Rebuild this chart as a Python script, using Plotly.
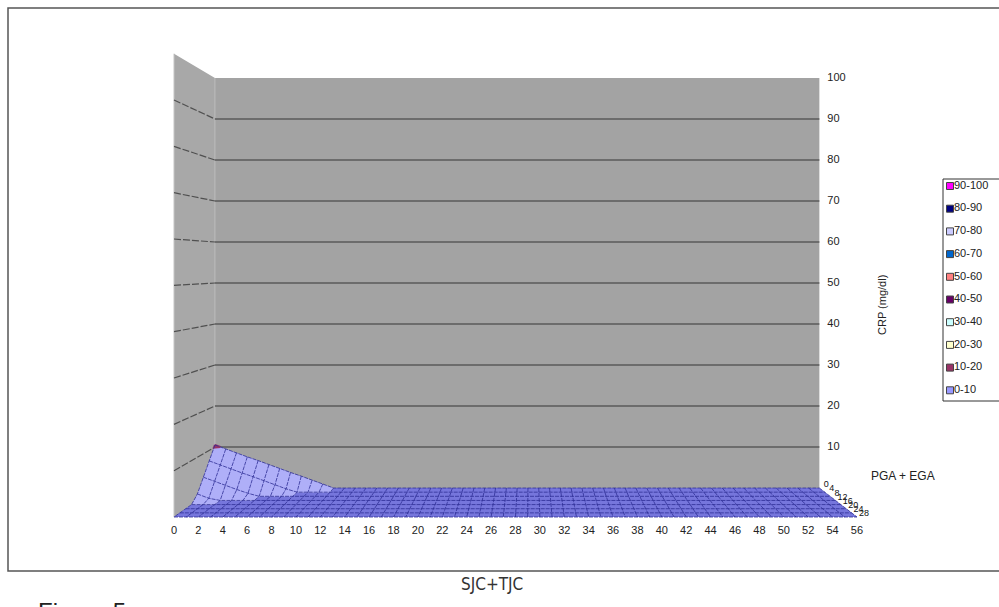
import plotly.graph_objects as go

# ---- data -----------------------------------------------------------------
SJC_TJC_TICKS = [0, 2, 4, 6, 8, 10, 12, 14, 16, 18, 20, 22, 24, 26, 28,
                 30, 32, 34, 36, 38, 40, 42, 44, 46, 48, 50, 52, 54, 56]
SJC_TJC_MAX = 56
PGA_EGA = [0, 4, 8, 12, 16, 20, 24, 28]          # series (depth) categories
CRP_TICKS = [10, 20, 30, 40, 50, 60, 70, 80, 90, 100]
CRP_MAX = 100

# CRP surface, one row per PGA+EGA category (back to front);
# leading values per SJC+TJC column, remaining columns are 0
CRP_ROW_0 = [10.5, 9.5, 8.6, 7.6, 6.7, 5.7, 4.8, 3.8, 2.9, 1.9, 1.0]
CRP_ROW_1 = [7.5, 6.5, 5.6, 4.6, 3.7, 2.7, 1.8, 0.8]
CRP_ROW_2 = [4.5, 3.5, 2.6, 1.6, 0.7]
CRP_ROW_3 = [1.5, 0.5]
CRP_ROW_4 = []
CRP_ROW_5 = []
CRP_ROW_6 = []
CRP_ROW_7 = []
CRP_ROWS = [CRP_ROW_0, CRP_ROW_1, CRP_ROW_2, CRP_ROW_3,
            CRP_ROW_4, CRP_ROW_5, CRP_ROW_6, CRP_ROW_7]

BAND_LABELS = ["90-100", "80-90", "70-80", "60-70", "50-60",
               "40-50", "30-40", "20-30", "10-20", "0-10"]
BAND_COLORS = ["#FF00FF", "#000080", "#CCCCFF", "#0066CC", "#FF8080",
               "#660066", "#CCFFFF", "#FFFFCC", "#993366", "#9999FF"]

# ---- perspective projection of (SJC+TJC, depth fraction, CRP) to the page --
FRONT_X0, FRONT_DX = 174.0, 12.196
FRONT_Y0, FRONT_DZ = 517.0, 4.633
VX, VY = 530.0, 265.0
K_BACK = 0.885


def project(x, f, z):
    """f = 0 at the back wall, 1 at the front edge."""
    k = K_BACK + (1 - K_BACK) * f
    px = FRONT_X0 + x * FRONT_DX
    py = FRONT_Y0 - z * FRONT_DZ
    return VX + (px - VX) * k, VY + (py - VY) * k


ncols = SJC_TJC_MAX + 1
nrows = len(PGA_EGA)
Z = [row + [0.0] * (ncols - len(row)) for row in CRP_ROWS]
F = [j / (nrows - 1) for j in range(nrows)]

FONT = "Liberation Sans, Arial, sans-serif"
fig = go.Figure()


def poly(pts, fill, line_color=None, width=0, dash=None):
    xs = [p[0] for p in pts] + [pts[0][0]]
    ys = [p[1] for p in pts] + [pts[0][1]]
    fig.add_trace(go.Scatter(
        x=xs, y=ys, mode="lines", fill="toself", fillcolor=fill,
        line=dict(color=line_color or fill, width=width, dash=dash),
        hoverinfo="skip", showlegend=False))


def lines(segs, color, width, dash=None):
    xs, ys = [], []
    for seg in segs:
        for p in seg:
            xs.append(p[0]); ys.append(p[1])
        xs.append(None); ys.append(None)
    fig.add_trace(go.Scatter(
        x=xs, y=ys, mode="lines", line=dict(color=color, width=width, dash=dash),
        hoverinfo="skip", showlegend=False))


# walls
poly([project(0, 1, 0), project(0, 0, 0), project(0, 0, CRP_MAX), project(0, 1, CRP_MAX)],
     "#a8a8a8")
poly([project(0, 0, 0), project(SJC_TJC_MAX, 0, 0),
      project(SJC_TJC_MAX, 0, CRP_MAX), project(0, 0, CRP_MAX)], "#a3a3a3")
lines([[project(0, 0, 0), project(0, 0, CRP_MAX)]], "#bcbcbc", 1)
lines([[project(0, 1, 0), project(0, 1, CRP_MAX)]], "#c4c4c4", 1)

# gridlines
lines([[project(0, 0, z), project(SJC_TJC_MAX, 0, z)] for z in CRP_TICKS[:-1]],
      "#5a5a5a", 1.6)
lines([[project(0, 1, z), project(0, 0, z)] for z in CRP_TICKS[:-1]],
      "#505050", 1.2, dash="7px,2px")

# surface cells, split by shading
flat_x, flat_y, slope_x, slope_y = [], [], [], []
for j in range(nrows - 1):
    for i in range(ncols - 1):
        corners = [(i, F[j], Z[j][i]), (i + 1, F[j], Z[j][i + 1]),
                   (i + 1, F[j + 1], Z[j + 1][i + 1]), (i, F[j + 1], Z[j + 1][i])]
        pts = [project(*c) for c in corners] + [project(*corners[0])]
        tx = slope_x if max(c[2] for c in corners) > 0 else flat_x
        ty = slope_y if tx is slope_x else flat_y
        tx.extend([p[0] for p in pts] + [None])
        ty.extend([p[1] for p in pts] + [None])

fig.add_trace(go.Scatter(x=flat_x, y=flat_y, mode="lines", fill="toself",
                         fillcolor="#7676dc", line=dict(width=0, color="#7676dc"),
                         hoverinfo="skip", showlegend=False))
fig.add_trace(go.Scatter(x=slope_x, y=slope_y, mode="lines", fill="toself",
                         fillcolor="#afaff8", line=dict(width=0, color="#afaff8"),
                         hoverinfo="skip", showlegend=False))

# part of the peak above 10 (10-20 band)
z00, z01, z10 = Z[0][0], Z[0][1], Z[1][0]
if z00 > 10:
    tx = (z00 - 10) / (z00 - z01)
    tf = (z00 - 10) / (z00 - z10) * F[1]
    poly([project(0, 0, z00), project(tx, 0, 10), project(0, tf, 10)],
         BAND_COLORS[8], BAND_COLORS[8], 2)

# surface mesh
mesh = []
for j in range(nrows):
    mesh.append([project(i, F[j], Z[j][i]) for i in range(ncols)])
for i in range(ncols):
    mesh.append([project(i, F[j], Z[j][i]) for j in range(nrows)])
lines(mesh, "#2e2e96", 0.8, dash="4px,1px")

# SJC+TJC tick labels along the front edge
fx = [project(v, 1, 0)[0] for v in SJC_TJC_TICKS]
fy = [project(v, 1, 0)[1] + 14 for v in SJC_TJC_TICKS]
fig.add_trace(go.Scatter(x=fx, y=fy, mode="text", text=[str(v) for v in SJC_TJC_TICKS],
                         textposition="middle center",
                         textfont=dict(family=FONT, size=11, color="#222222"),
                         hoverinfo="skip", showlegend=False))

# CRP tick labels on the right of the back wall
zx = [project(SJC_TJC_MAX, 0, v)[0] + 8 for v in CRP_TICKS]
zy = [project(SJC_TJC_MAX, 0, v)[1] for v in CRP_TICKS]
fig.add_trace(go.Scatter(x=zx, y=zy, mode="text", text=[str(v) for v in CRP_TICKS],
                         textposition="middle right",
                         textfont=dict(family=FONT, size=11, color="#222222"),
                         hoverinfo="skip", showlegend=False))

# PGA+EGA labels squeezed along the right floor edge
dx = [project(SJC_TJC_MAX, f, 0)[0] + 7 for f in F]
dy = [project(SJC_TJC_MAX, f, 0)[1] - 3 for f in F]
fig.add_trace(go.Scatter(x=dx, y=dy, mode="text", text=[str(v) for v in PGA_EGA],
                         textposition="middle center",
                         textfont=dict(family=FONT, size=9, color="#111111"),
                         hoverinfo="skip", showlegend=False))

# legend
LEG_X, LEG_Y0, LEG_DY = 950, 186, 22.7
ly = [LEG_Y0 + k * LEG_DY for k in range(len(BAND_LABELS))]
fig.add_trace(go.Scatter(x=[LEG_X] * len(ly), y=ly, mode="markers",
                         marker=dict(symbol="square", size=7, color=BAND_COLORS,
                                     line=dict(color="#444444", width=1)),
                         hoverinfo="skip", showlegend=False))
fig.add_trace(go.Scatter(x=[LEG_X + 4] * len(ly), y=ly, mode="text", text=BAND_LABELS,
                         textposition="middle right",
                         textfont=dict(family=FONT, size=11, color="#222222"),
                         hoverinfo="skip", showlegend=False))

shapes = [
    dict(type="path", path="M 1010 8 L 8 8 L 8 571 L 1010 571",
         line=dict(color="#555555", width=1.5), xref="x", yref="y"),
    dict(type="path", path="M 1010 179 L 943 179 L 943 401 L 1010 401",
         line=dict(color="#333333", width=1), xref="x", yref="y"),
]

annotations = [
    dict(x=882, y=305, text="CRP (mg/dl)", textangle=-90, showarrow=False,
         font=dict(family=FONT, size=11, color="#222222")),
    dict(x=903, y=476, text="PGA + EGA", showarrow=False,
         font=dict(family=FONT, size=12, color="#222222")),
    dict(x=492, y=584, text="SJC+TJC", showarrow=False,
         font=dict(family="Liberation Sans Narrow, DejaVu Sans Condensed, sans-serif",
                   size=17, color="#333333")),
    dict(x=36, y=596, text="Figure 5", showarrow=False, xanchor="left", yanchor="top",
         font=dict(family=FONT, size=24, color="#222222")),
]

fig.update_layout(
    width=999, height=607, margin=dict(l=0, r=0, t=0, b=0),
    paper_bgcolor="white", plot_bgcolor="white", showlegend=False,
    xaxis=dict(range=[0, 999], visible=False, fixedrange=True),
    yaxis=dict(range=[607, 0], visible=False, fixedrange=True),
    shapes=shapes, annotations=annotations,
)

fig.write_html("out.html")
